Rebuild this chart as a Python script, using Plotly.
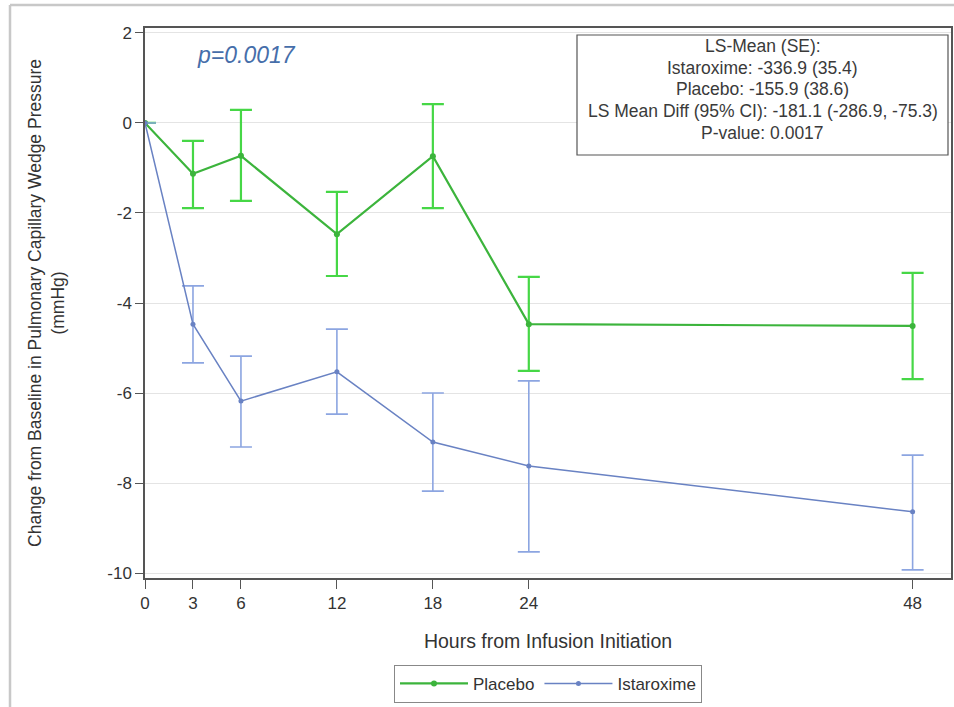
import plotly.graph_objects as go

hours = [0, 3, 6, 12, 18, 24, 48]
placebo_mean = [0.0, -1.13, -0.73, -2.47, -0.74, -4.47, -4.51]
placebo_upper = [0.0, -0.40, 0.29, -1.53, 0.42, -3.42, -3.33]
placebo_lower = [0.0, -1.89, -1.73, -3.40, -1.89, -5.51, -5.69]
istar_mean = [0.0, -4.47, -6.18, -5.53, -7.09, -7.62, -8.64]
istar_upper = [0.0, -3.62, -5.18, -4.58, -6.00, -5.73, -7.38]
istar_lower = [0.0, -5.33, -7.20, -6.47, -8.18, -9.53, -9.93]

y_ticks = [2, 0, -2, -4, -6, -8, -10]
y_tick_text = ["2", "0", "-2", "-4", "-6", "-8", "-10"]
x_ticks = [0, 3, 6, 12, 18, 24, 48]

stat_lines = [
    "LS-Mean (SE):",
    "Istaroxime: -336.9 (35.4)",
    "Placebo: -155.9 (38.6)",
    "LS Mean Diff (95% CI): -181.1 (-286.9, -75.3)",
    "P-value: 0.0017",
]

FONT = "Arial, Liberation Sans, sans-serif"
GREEN_LINE = "rgb(60,180,60)"
GREEN_ERR = "rgb(70,215,70)"
BLUE_LINE = "rgb(105,130,195)"
BLUE_ERR = "rgb(140,165,225)"

fig = go.Figure()

fig.add_trace(go.Scatter(
    x=hours, y=placebo_mean, mode="lines+markers", name="Placebo",
    line=dict(color=GREEN_LINE, width=2.2),
    marker=dict(color=GREEN_LINE, size=6),
    error_y=dict(type="data", symmetric=False,
                 array=[u - m for u, m in zip(placebo_upper, placebo_mean)],
                 arrayminus=[m - l for m, l in zip(placebo_mean, placebo_lower)],
                 color=GREEN_ERR, thickness=2.2, width=11),
))
fig.add_trace(go.Scatter(
    x=hours, y=istar_mean, mode="lines+markers", name="Istaroxime",
    line=dict(color=BLUE_LINE, width=1.5),
    marker=dict(color=BLUE_LINE, size=5),
    error_y=dict(type="data", symmetric=False,
                 array=[u - m for u, m in zip(istar_upper, istar_mean)],
                 arrayminus=[m - l for m, l in zip(istar_mean, istar_lower)],
                 color=BLUE_ERR, thickness=1.6, width=11),
))

fig.update_layout(
    width=954, height=707,
    margin=dict(l=145, r=3, t=28, b=129, autoexpand=False),
    paper_bgcolor="white", plot_bgcolor="white",
    font=dict(family=FONT, size=16, color="#333333"),
    showlegend=True,
    legend=dict(orientation="h", x=0.5, xanchor="center", y=-0.158, yanchor="top",
                bordercolor="#888888", borderwidth=1,
                font=dict(size=17, color="#333333"), itemwidth=68),
    xaxis=dict(range=[0, 50.4], tickvals=x_ticks, ticks="outside", ticklen=9,
               tickcolor="#555555", showline=True, linecolor="#555555", linewidth=1.5,
               mirror=True, showgrid=False, zeroline=False, automargin=False,
               tickfont=dict(size=17, color="#333333"),
               title=dict(text="Hours from Infusion Initiation", standoff=22,
                          font=dict(size=19.5, color="#333333"))),
    yaxis=dict(range=[-10.11, 2.11], tickvals=y_ticks, ticktext=y_tick_text,
               ticks="outside", ticklen=8, tickcolor="#555555",
               showline=True, linecolor="#555555", linewidth=1.5, mirror=True,
               showgrid=True, gridcolor="#e4e4e4", gridwidth=1, zeroline=False, automargin=False,
               tickfont=dict(size=17, color="#333333"),
               title=dict(text="Change from Baseline in Pulmonary Capillary Wedge Pressure<br>(mmHg)",
                          standoff=38, font=dict(size=17.5, color="#333333"))),
)

# p-value text
fig.add_annotation(x=(195 - 145) / 806, y=(578 - 55) / 550, xref="paper", yref="paper",
                   xanchor="left", yanchor="middle",
                   text="<i>p=0.0017</i>", showarrow=False,
                   font=dict(size=23, color="rgb(70,110,170)", family=FONT))

# statistics box
box_x0, box_x1 = (577 - 145) / 806, (948 - 145) / 806
box_y0, box_y1 = (578 - 155) / 550, (578 - 35) / 550
fig.add_shape(type="rect", xref="paper", yref="paper", x0=box_x0, x1=box_x1, y0=box_y0, y1=box_y1,
              line=dict(color="#555555", width=1.2), fillcolor="white", layer="above")
line_y_px = [46, 68, 89, 111, 133]
for txt, ypx in zip(stat_lines, line_y_px):
    fig.add_annotation(x=(box_x0 + box_x1) / 2, y=(578 - ypx) / 550, xref="paper", yref="paper",
                       xanchor="center", yanchor="middle", text=txt, showarrow=False,
                       font=dict(size=17.5, color="#3a3a3a", family=FONT))

# outer frame lines
fig.add_shape(type="line", xref="paper", yref="paper",
              x0=(10 - 145) / 806, x1=(954 - 145) / 806, y0=(578 - 5) / 550, y1=(578 - 5) / 550,
              line=dict(color="#c8c8c8", width=2.5))
fig.add_shape(type="line", xref="paper", yref="paper",
              x0=(10 - 145) / 806, x1=(10 - 145) / 806, y0=(578 - 5) / 550, y1=(578 - 710) / 550,
              line=dict(color="#c8c8c8", width=2.5))

fig.write_html("out.html", config={"displayModeBar": False},
               post_script="document.body.style.margin='0';document.body.style.overflow='hidden';")
